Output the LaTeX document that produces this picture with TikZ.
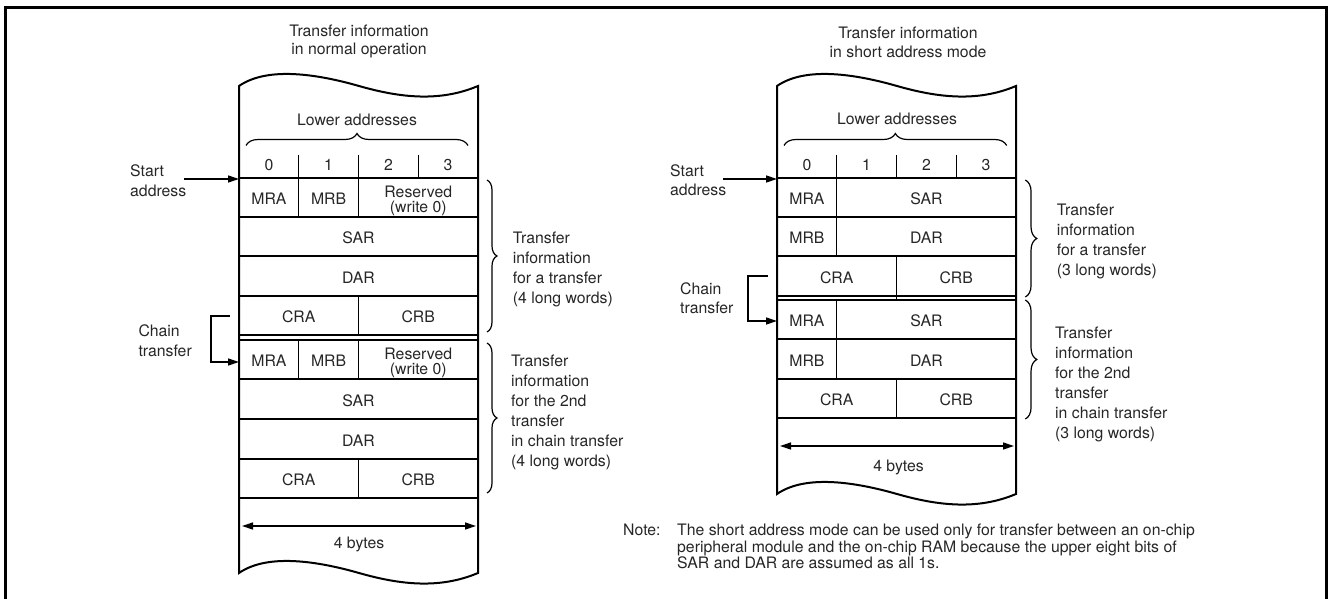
\documentclass[tikz,border=0pt]{standalone}
\usepackage{fontspec}
\setmainfont{TeX Gyre Heros}
\usetikzlibrary{arrows.meta,decorations.pathreplacing}

% Outline of a memory strip with wavy top and bottom edges.
% #1 left x, #2 top baseline, #3 bottom baseline (strip is 239 wide)
\newcommand{\memstrip}[3]{%
  \draw[outline] (#1,#2)
    .. controls (#1+26,#2-18) and (#1+71,#2-14) .. (#1+120,#2)
    .. controls (#1+162,#2+12) and (#1+201,#2+16) .. (#1+239,#2)
    -- (#1+239,#3)
    .. controls (#1+201,#3+16) and (#1+162,#3+12) .. (#1+120,#3)
    .. controls (#1+71,#3-14) and (#1+26,#3-18) .. (#1,#3)
    -- cycle;}

\begin{document}
\begin{tikzpicture}[x=1pt,y=-1pt,
  every node/.style={inner sep=0pt, text=black!85,
    font=\fontsize{15.8}{19}\selectfont},
  outline/.style={line width=2pt, line join=miter},
  cellline/.style={line width=1.2pt},
  txt/.style={anchor=base},
  % multi-line labels: the base anchor sits on the last line
  lbl/.style={anchor=base west, align=left},
  sidelbl/.style={anchor=base west, align=left,
    font=\fontsize{15.8}{20}\selectfont},
  twoline/.style={anchor=base, align=center,
    font=\fontsize{15.8}{15}\selectfont},
  conn/.style={line width=1.3pt, -{Triangle[length=11pt,width=7pt]}},
  span/.style={line width=1.3pt,
    {Triangle[length=11pt,width=7pt]}-{Triangle[length=11pt,width=7pt]}},
  bracelt/.style={line width=1.2pt, decorate,
    decoration={brace, amplitude=#1}},
]
\useasboundingbox (0,0) rectangle (1328,599);

% page frame
\draw[line width=2.6pt] (5.5,605) -- (5.5,7.5) -- (1326.5,7.5) -- (1326.5,605);

% ================= normal operation =================
\node[twoline, font=\fontsize{15.8}{18.5}\selectfont] (titleL) at (359,55)
  {Transfer information\\in normal operation};

\memstrip{239}{86}{573}

\node[txt] (lowL) at (357,125.5) {Lower addresses};
\draw[bracelt=12pt] (246,145.5) -- (468,145.5);

% byte numbers
\draw[cellline] (298.75,155) -- (298.75,178)
                (358.5,155) -- (358.5,178)
                (418.25,155) -- (418.25,178);
\node[txt] (nL0) at (268.9,170.5) {0};
\node[txt] (nL1) at (328.6,170.5) {1};
\node[txt] (nL2) at (388.4,170.5) {2};
\node[txt] (nL3) at (448.1,170.5) {3};

% row borders
\foreach \yy in {178,217,256,296,335,340,379,419,459,498}
  \draw[cellline] (239,\yy) -- (478,\yy);
% column dividers inside rows
\draw[cellline] (298.75,178) -- (298.75,217) (358.5,178) -- (358.5,217)
                (358.5,296) -- (358.5,335)
                (298.75,340) -- (298.75,379) (358.5,340) -- (358.5,379)
                (358.5,459) -- (358.5,498);

% first transfer
\node[txt] (mraL1) at (268.9,204.5) {MRA};
\node[txt] (mrbL1) at (328.6,204.5) {MRB};
\node[twoline] (resL1) at (418.25,212) {Reserved\\(write 0)};
\node[txt] (sarL1) at (358.5,243.5) {SAR};
\node[txt] (darL1) at (358.5,283) {DAR};
\node[txt] (craL1) at (298.75,322.5) {CRA};
\node[txt] (crbL1) at (418.25,322.5) {CRB};
% second transfer
\node[txt] (mraL2) at (268.9,366.5) {MRA};
\node[txt] (mrbL2) at (328.6,366.5) {MRB};
\node[twoline] (resL2) at (418.25,374) {Reserved\\(write 0)};
\node[txt] (sarL2) at (358.5,406) {SAR};
\node[txt] (darL2) at (358.5,446) {DAR};
\node[txt] (craL2) at (298.75,485.5) {CRA};
\node[txt] (crbL2) at (418.25,485.5) {CRB};

% width
\coordinate (wL1) at (242,526);
\coordinate (wL2) at (476,526);
\draw[span] (wL1) -- (wL2);
\node[txt] (bytesL) at (359,548) {4 bytes};

% start address
\node[lbl, font=\fontsize{15.8}{19.5}\selectfont] (startL) at (130,196.2) {Start\\address};
\coordinate (saL) at (184,179);
\coordinate (saLend) at (239,179);
\draw[conn] (saL) -- (saLend);

% chain transfer
\node[lbl, font=\fontsize{15.8}{20}\selectfont] (chainL) at (138.3,356.7) {Chain\\transfer};
\coordinate (chLa) at (230,316);
\coordinate (chLb) at (239,362);
\draw[conn] (chLa) -- ++(-19,0) |- (chLb);

% group braces
\draw[bracelt=10pt] (487,180) -- (487,332);
\draw[bracelt=10pt] (487,343) -- (487,493);
\node[sidelbl] (grpL1) at (512.7,303.3)
  {Transfer\\information\\for a transfer\\(4 long words)};
\node[sidelbl] (grpL2) at (511,466.7)
  {Transfer\\information\\for the 2nd\\transfer\\in chain transfer\\(4 long words)};

% ================= short address mode =================
\node[twoline, font=\fontsize{15.8}{18.5}\selectfont] (titleR) at (908,57.5)
  {Transfer information\\in short address mode};

\memstrip{777}{86}{494}

\node[txt] (lowR) at (897,124.5) {Lower addresses};
\draw[bracelt=12pt] (784,145.5) -- (1006.7,145.5);

\draw[cellline] (836.75,155) -- (836.75,178)
                (896.5,155) -- (896.5,178)
                (956.25,155) -- (956.25,178);
\node[txt] (nR0) at (806.9,170.5) {0};
\node[txt] (nR1) at (866.6,170.5) {1};
\node[txt] (nR2) at (926.4,170.5) {2};
\node[txt] (nR3) at (986.1,170.5) {3};

\foreach \yy in {178,217,256,296,300,339,379,418}
  \draw[cellline] (777,\yy) -- (1016,\yy);
\draw[cellline] (836.75,178) -- (836.75,256)
                (896.5,256) -- (896.5,300)
                (836.75,300) -- (836.75,379)
                (896.5,379) -- (896.5,418);

\node[txt] (mraR1) at (806.9,204.5) {MRA};
\node[txt] (sarR1) at (926.4,204.5) {SAR};
\node[txt] (mrbR1) at (806.9,243.5) {MRB};
\node[txt] (darR1) at (926.4,243.5) {DAR};
\node[txt] (craR1) at (836.75,283) {CRA};
\node[txt] (crbR1) at (956.25,283) {CRB};
\node[txt] (mraR2) at (806.9,326.5) {MRA};
\node[txt] (sarR2) at (926.4,326.5) {SAR};
\node[txt] (mrbR2) at (806.9,366) {MRB};
\node[txt] (darR2) at (926.4,366) {DAR};
\node[txt] (craR2) at (836.75,405.5) {CRA};
\node[txt] (crbR2) at (956.25,405.5) {CRB};

\coordinate (wR1) at (780,446);
\coordinate (wR2) at (1014,446);
\draw[span] (wR1) -- (wR2);
\node[txt] (bytesR) at (898.5,471.7) {4 bytes};

\node[lbl, font=\fontsize{15.8}{19}\selectfont] (startR) at (670,195.7) {Start\\address};
\coordinate (saR) at (723,179);
\coordinate (saRend) at (777,179);
\draw[conn] (saR) -- (saRend);

\node[lbl, font=\fontsize{15.8}{19.3}\selectfont] (chainR) at (680,313.3) {Chain\\transfer};
\coordinate (chRa) at (768,276);
\coordinate (chRb) at (777,321);
\draw[conn] (chRa) -- ++(-20,0) |- (chRb);

\draw[bracelt=11.5pt] (1025.3,180) -- (1025.3,297);
\draw[bracelt=11.5pt] (1025.3,300) -- (1025.3,419);
\node[sidelbl] (grpR1) at (1056.7,275)
  {Transfer\\information\\for a transfer\\(3 long words)};
\node[sidelbl] (grpR2) at (1055,438.3)
  {Transfer\\information\\for the 2nd\\transfer\\in chain transfer\\(3 long words)};

% note
\node[txt, anchor=base west] (noteHead) at (623,535.7) {Note:};
\node[lbl, font=\fontsize{15.8}{16.6}\selectfont] (noteBody) at (677,568.9)
  {The short address mode can be used only for transfer between an on-chip\\
   peripheral module and the on-chip RAM because the upper eight bits of\\
   SAR and DAR are assumed as all 1s.};

\end{tikzpicture}
\end{document}
